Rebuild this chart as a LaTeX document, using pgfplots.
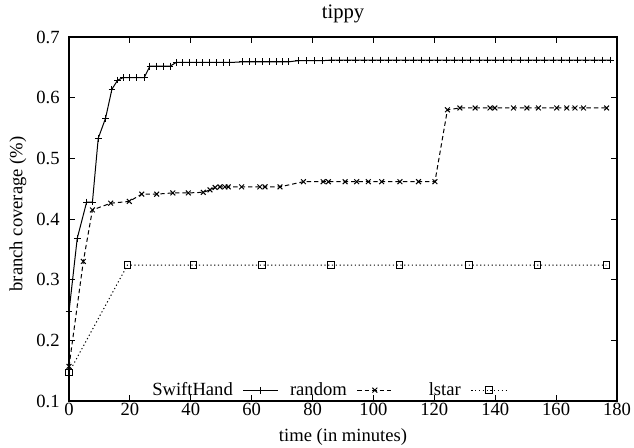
\documentclass[border=0pt]{standalone}
\usepackage{fontspec}
\setmainfont{Liberation Serif}
\usepackage{pgfplots}
\pgfplotsset{compat=1.18}
\begin{document}
\fontsize{9.3pt}{11pt}\selectfont
\begin{tikzpicture}
\useasboundingbox (-34.5pt,-23pt) rectangle (282.5pt,200.5pt);
\begin{axis}[
  at={(0pt,0pt)}, anchor=south west,
  scale only axis, width=274pt, height=182pt,
  xmin=0, xmax=180, ymin=0.1, ymax=0.7,
  xtick={0,20,...,180}, ytick={0.1,0.2,...,0.7},
  yticklabel style={/pgf/number format/fixed, /pgf/number format/precision=1, /pgf/number format/fixed zerofill, anchor=east, inner sep=0pt, xshift=-4.5pt},
  xticklabel style={anchor=north, inner sep=0pt, yshift=-0.8pt},
  /pgf/number format/assume math mode=true,
  tick align=inside, tick pos=both, major tick length=3pt,
  axis line style={line width=0.6pt},
  every tick/.style={black, line width=0.5pt},
  title={tippy},
  title style={at={(axis description cs:0.5,1)}, anchor=base, yshift=3.5pt, font=\fontsize{10.3pt}{12pt}\selectfont, inner sep=0pt},
  xlabel={time (in minutes)},
  xlabel style={at={(axis description cs:0.5,0)}, anchor=base, yshift=-20pt, inner sep=0pt},
  ylabel={branch coverage (\%)},
  ylabel style={at={(axis description cs:-0.093,0.514)}, anchor=center, inner sep=0pt},
  legend plot pos=right,
  legend columns=3,
  legend image code/.code={\draw[mark repeat=2,mark phase=2,#1] plot coordinates {(0pt,0pt) (8.75pt,0pt) (17.5pt,0pt)};},
  legend style={draw=none, fill=none, inner sep=0pt, outer sep=0pt,
    at={(axis description cs:0.799,0.008)}, anchor=south east,
    nodes={inner sep=0pt},
    /tikz/every odd column/.append style={column sep=5pt},
    /tikz/every even column/.append style={column sep=0pt}},
]
\addplot[black, line width=0.5pt, mark=+, mark size=1.7pt, mark options={solid}] coordinates {
(0,0.247) (2.7,0.368) (5.8,0.428) (7.7,0.428) (9.6,0.533) (12.0,0.566) (14.1,0.614) (16.0,0.629) (17.8,0.633) (19.8,0.633) (22.2,0.633) (24.7,0.633)
(26.6,0.652) (28.8,0.652) (31.0,0.652) (33.2,0.652) (35.2,0.658) (37.4,0.658) (39.6,0.658) (41.8,0.658) (44.0,0.658) (46.2,0.658) (48.4,0.658) (50.6,0.658) (52.8,0.658)
(57.0,0.659) (59.2,0.659) (61.4,0.659) (63.6,0.659) (65.8,0.659) (68.0,0.659) (70.2,0.659) (72.0,0.659)
(75.3,0.661) (78.0,0.661) (80.7,0.661) (83.4,0.661) (86.1,0.662) (88.8,0.662) (91.5,0.662) (94.2,0.662) (96.9,0.662) (99.6,0.662) (102.3,0.662) (105.0,0.662)
(107.7,0.662) (110.4,0.662) (113.1,0.662) (115.8,0.662) (118.5,0.662) (121.2,0.662) (123.9,0.662) (126.6,0.662) (129.3,0.662) (132.0,0.662) (134.7,0.662)
(137.4,0.662) (140.1,0.662) (142.8,0.662) (145.5,0.662) (148.2,0.662) (150.9,0.662) (153.6,0.662) (156.3,0.662) (159.0,0.662) (161.7,0.662) (164.4,0.662)
(167.1,0.662) (169.8,0.662) (172.5,0.662) (175.2,0.662) (177.9,0.662)
};
\addlegendentry{\makebox[34pt][r]{SwiftHand}}
\addplot[black, line width=0.5pt, dash pattern=on 2.2pt off 1.5pt, mark=x, mark size=1.7pt, mark options={solid}] coordinates {
(0,0.157) (4.7,0.330) (7.7,0.415) (13.7,0.426) (19.8,0.429) (23.9,0.441) (28.8,0.441) (34.1,0.443) (39.2,0.443) (44.1,0.444) (46.3,0.448) (48.0,0.452)
(49.6,0.453) (51.2,0.453) (52.3,0.453) (56.7,0.453) (62.7,0.453) (64.4,0.453) (69.3,0.453) (77.0,0.4615) (83.5,0.4615) (85.2,0.4615) (90.7,0.4615)
(94.5,0.4615) (98.3,0.4615) (102.7,0.4615) (108.7,0.4615) (114.8,0.4615) (120.2,0.4615) (124.3,0.580) (128.4,0.583) (133.4,0.583) (138.3,0.583)
(139.9,0.583) (146.0,0.583) (150.4,0.583) (154.2,0.583) (160.2,0.583) (163.5,0.583) (166.2,0.583) (169.0,0.583) (176.6,0.583)
};
\addlegendentry{\makebox[34pt][r]{random}}
\addplot[black, line width=0.5pt, dash pattern=on 0.6pt off 1.3pt, mark=square, mark size=1.6pt, mark options={solid}] coordinates {
(0,0.147) (19.2,0.324) (40.8,0.324) (63.4,0.324) (86.0,0.324) (108.6,0.324) (131.4,0.324) (153.9,0.324) (176.5,0.324)
};
\addlegendentry{\makebox[34pt][r]{lstar}}
\end{axis}
\end{tikzpicture}
\end{document}
